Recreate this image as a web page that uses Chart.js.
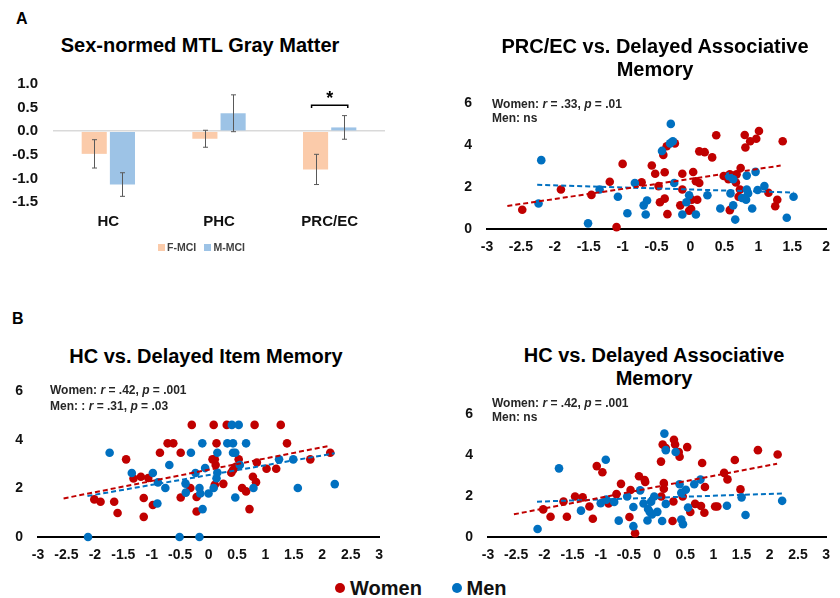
<!DOCTYPE html>
<html><head><meta charset="utf-8">
<script src="https://cdn.jsdelivr.net/npm/chart.js@4.4.1/dist/chart.umd.min.js"></script>
<style>
body{margin:0;background:#fff;}
#wrap{position:relative;width:840px;height:598px;overflow:hidden;font-family:"Liberation Sans",Arial,sans-serif;color:#000;background:#fff;}
canvas{position:absolute;}
.t{position:absolute;white-space:nowrap;font-weight:bold;}
.c{transform:translateX(-50%);text-align:center;}
.ann{font-size:12px;color:#262626;}
.dot{display:inline-block;border-radius:50%;position:absolute;}
</style></head><body>
<div id="wrap">
  <canvas id="c1" width="420" height="182" style="left:0;top:60px"></canvas>
  <canvas id="c2" width="403" height="179" style="left:437px;top:80px"></canvas>
  <canvas id="c3" width="393" height="199" style="left:0;top:368px"></canvas>
  <canvas id="c4" width="402" height="176" style="left:438px;top:391px"></canvas>

  <div class="t" style="left:16px;top:11px;font-size:16px;line-height:16px">A</div>
  <div class="t" style="left:12px;top:311px;font-size:16px;line-height:16px">B</div>

  <div class="t c" style="left:200px;top:35px;font-size:20px;line-height:20px">Sex-normed MTL Gray Matter</div>
  <div class="t c" style="left:655px;top:35px;font-size:20px;line-height:23px">PRC/EC vs. Delayed Associative<br>Memory</div>
  <div class="t c" style="left:206px;top:346px;font-size:20px;line-height:20px">HC vs. Delayed Item Memory</div>
  <div class="t c" style="left:654px;top:344px;font-size:20px;line-height:22.5px">HC vs. Delayed Associative<br>Memory</div>

  <div class="t ann" style="left:492px;top:96.5px;line-height:14.5px">Women: <i>r</i> = .33, <i>p</i> = .01<br>Men: ns</div>
  <div class="t ann" style="left:50px;top:383px;line-height:15.5px">Women: <i>r</i> = .42, <i>p</i> = .001<br>Men: : <i>r</i> = .31, <i>p</i> = .03</div>
  <div class="t ann" style="left:492px;top:396px;line-height:14.2px">Women: <i>r</i> = .42, <i>p</i> = .001<br>Men: ns</div>

  <div id="barLegend"></div>
  <div id="sexLegend"></div>
</div>
<script>
// ---------- Panel A: bar chart data ----------
const barCategories = ['HC', 'PHC', 'PRC/EC'];
const barSeriesNames = ['F-MCI', 'M-MCI'];
const fMCI = [-0.48, -0.16, -0.81];
const mMCI = [-1.13, 0.38, 0.08];
const fMCIErr = [0.30, 0.18, 0.32];
const mMCIErr = [0.25, 0.39, 0.25];
const barYRange = [-1.5, 1.0];
const barYStep = 0.5;
const sigCategory = 2;      // PRC/EC
const sigLevel = 0.55;      // bracket height (data units)

// ---------- Scatter data ----------
const sexNames = ['Women', 'Men'];
const memYRange = [0, 6];
const memYStep = 2;
const prcXRange = [-3, 2];
const hcXRange = [-3, 3];
const xStep = 0.5;

// PRC/EC vs Delayed Associative Memory
const prcWomenX = [-2.48,-1.91,-1.46,-1.19,-1.00,-1.09,-0.72,-0.57,-0.52,-0.47,-0.45,-0.38,-0.38,-0.40,-0.34,-0.35,-0.23,-0.15,-0.12,-0.12,-0.02,0.01,0.02,0.10,0.04,0.08,0.13,0.13,0.21,0.32,0.38,0.49,0.56,0.58,0.67,0.68,0.73,0.74,0.71,0.58,0.80,0.81,0.88,0.97,1.01,1.15,1.28,1.25,1.36];
const prcWomenY = [0.92,1.89,1.63,2.26,3.11,0.09,2.23,3.03,2.64,2.05,1.28,1.45,2.71,3.54,0.71,3.95,4.09,1.13,2.64,1.89,0.87,0.95,1.40,1.40,2.72,2.28,2.20,3.71,3.67,3.42,4.48,2.53,2.38,2.61,2.22,2.61,1.89,2.91,1.54,0.90,4.49,3.89,4.19,4.31,4.68,1.73,1.40,1.09,4.19];
const prcMenX = [-2.20,-2.24,-1.51,-1.34,-1.07,-0.93,-0.82,-0.69,-0.64,-0.66,-0.42,-0.29,-0.30,-0.26,-0.24,-0.12,-0.06,-0.02,0.08,0.25,0.44,0.57,0.63,0.59,0.63,0.66,0.76,0.82,0.83,0.83,0.85,0.91,0.99,0.96,1.09,1.42,1.52];
const prcMenY = [3.29,1.22,0.27,1.89,1.54,0.75,2.20,1.13,1.36,0.69,3.73,5.02,4.09,4.19,2.20,0.69,1.28,1.61,0.69,1.61,0.98,2.52,2.38,1.70,1.13,0.45,1.48,1.40,1.89,2.55,1.70,0.98,1.86,2.73,2.05,0.54,1.54];
const prcWomenFitX = [-2.70, 1.33], prcWomenFitY = [1.10, 3.03];
const prcMenFitX = [-2.26, 1.52], prcMenFitY = [2.11, 1.74];

// HC vs Delayed Item Memory
const hcItemWomenX = [-2.01,-1.90,-1.66,-1.60,-1.45,-1.32,-1.19,-1.14,-1.14,-1.06,-0.98,-0.855,-0.72,-0.62,-0.49,-0.49,-0.32,-0.295,-0.21,-0.21,0.07,0.11,0.09,0.14,0.125,0.11,0.26,0.32,0.40,0.43,0.48,0.53,0.59,0.66,0.72,0.78,0.835,0.81,0.85,1.02,1.19,1.27,1.38,1.79,2.14];
const hcItemWomenY = [1.55,1.45,1.45,0.99,3.20,2.41,2.48,1.61,0.83,2.43,1.32,3.47,3.86,3.86,3.47,1.63,2.02,4.62,1.65,1.05,3.20,3.20,4.62,3.86,2.97,2.15,2.19,4.62,2.65,2.76,2.89,3.20,2.02,1.88,1.15,2.48,2.26,4.62,3.07,2.81,2.81,4.62,3.86,3.20,3.47];
const hcItemMenX = [-2.12,-1.74,-1.35,-0.98,-0.89,-0.90,-0.76,-0.69,-0.51,-0.405,-0.40,-0.31,-0.23,-0.16,-0.16,-0.145,-0.105,-0.11,-0.06,0.00,0.09,0.155,0.155,0.14,0.33,0.43,0.43,0.41,0.53,0.47,0.47,0.55,0.66,0.79,1.24,1.49,1.57,2.22];
const hcItemMenY = [0,3.47,2.64,2.64,2.25,1.38,2.02,2.97,0,2.20,1.83,3.47,2.64,0,2.02,1.79,1.15,3.86,2.84,1.79,2.02,3.47,2.66,2.42,3.86,3.86,3.47,4.62,4.62,3.47,1.63,2.97,3.86,2.02,3.20,3.20,2.02,2.18];
const hcItemWomenFitX = [-2.55, 2.13], hcItemWomenFitY = [1.59, 3.76];
const hcItemMenFitX = [-2.13, 2.22], hcItemMenFitY = [1.69, 3.45];

// HC vs Delayed Associative Memory
const hcAssocWomenX = [-2.02,-1.89,-1.66,-1.60,-1.455,-1.32,-1.20,-1.14,-1.07,-0.97,-0.86,-0.72,-0.64,-0.49,-0.47,-0.32,-0.22,-0.21,-0.39,0.07,0.075,0.10,0.12,0.12,0.155,0.275,0.29,0.30,0.32,0.385,0.40,0.455,0.535,0.59,0.675,0.78,0.80,0.85,0.84,1.03,1.07,1.19,1.25,1.38,1.48,1.79,2.14];
const hcAssocWomenY = [1.35,0.99,1.74,0.99,1.98,1.94,1.49,0.89,3.47,3.17,1.64,2.10,2.60,0.98,2.30,2.97,2.79,2.69,0.18,3.69,1.98,4.53,2.36,2.64,4.35,0.78,1.74,4.76,4.53,4.16,3.93,1.98,4.40,1.22,1.62,1.52,3.62,2.45,1.19,1.49,1.49,3.14,2.82,3.77,2.33,4.25,4.04];
const hcAssocMenX = [-2.12,-1.74,-1.35,-1.00,-0.90,-0.91,-0.76,-0.68,-0.53,-0.42,-0.42,-0.30,-0.24,-0.17,-0.16,-0.13,-0.105,-0.09,-0.05,0.005,0.09,0.13,0.155,0.155,0.33,0.40,0.43,0.43,0.46,0.51,0.55,0.66,0.77,1.24,1.50,1.57,2.22];
const hcAssocMenY = [0.39,3.36,1.29,1.65,1.83,3.78,1.71,0.80,1.98,1.47,0.53,2.28,1.64,0.81,1.37,1.23,1.73,1.10,1.98,1.23,0.78,5.06,4.25,1.62,4.16,2.58,2.16,0.86,0.63,2.31,1.44,2.58,2.81,1.53,1.94,1.08,1.77];
const hcAssocWomenFitX = [-2.54, 2.13], hcAssocWomenFitY = [1.11, 3.59];
const hcAssocMenFitX = [-2.13, 2.22], hcAssocMenFitY = [1.73, 2.13];

// ---------- styling ----------
const FONT = '"Liberation Sans", Arial, sans-serif';
Chart.defaults.font.family = FONT;
Chart.defaults.color = '#111';
const RED = '#C00000', BLUE = '#0070C0';
const PEACH = '#FBCBAA', LBLUE = '#9DC3E6';

function pts(xs, ys) { return xs.map((x, i) => ({ x: x, y: ys[i] })); }

// ---------- Bar chart ----------
const barPlugin = {
  id: 'errAndSig',
  afterDatasetsDraw(chart) {
    const ctx = chart.ctx, ys = chart.scales.y;
    const errs = [fMCIErr, mMCIErr];
    ctx.save();
    ctx.strokeStyle = '#595959';
    ctx.lineWidth = 1;
    chart.data.datasets.forEach((ds, i) => {
      const meta = chart.getDatasetMeta(i);
      meta.data.forEach((bar, j) => {
        const v = ds.data[j], e = errs[i][j];
        const y1 = ys.getPixelForValue(v + e), y2 = ys.getPixelForValue(v - e);
        const x = Math.round(bar.x) + 0.5;
        ctx.beginPath();
        ctx.moveTo(x, y1); ctx.lineTo(x, y2);
        ctx.moveTo(x - 2.5, y1); ctx.lineTo(x + 2.5, y1);
        ctx.moveTo(x - 2.5, y2); ctx.lineTo(x + 2.5, y2);
        ctx.stroke();
      });
    });
    // significance bracket
    const b0 = chart.getDatasetMeta(0).data[sigCategory];
    const b1 = chart.getDatasetMeta(1).data[sigCategory];
    const x0 = b0.x - 4, x1 = b1.x + 4;
    const yb = ys.getPixelForValue(sigLevel);
    const yt = ys.getPixelForValue(sigLevel - 0.06);
    ctx.strokeStyle = '#000';
    ctx.lineWidth = 1.5;
    ctx.beginPath();
    ctx.moveTo(x0, yt); ctx.lineTo(x0, yb); ctx.lineTo(x1, yb); ctx.lineTo(x1, yt);
    ctx.stroke();
    ctx.fillStyle = '#000';
    ctx.font = 'bold 18px ' + FONT;
    ctx.textAlign = 'center';
    ctx.textBaseline = 'alphabetic';
    ctx.fillText('*', (x0 + x1) / 2, yb - 1);
    ctx.restore();
  }
};

new Chart(document.getElementById('c1'), {
  type: 'bar',
  data: {
    labels: barCategories,
    datasets: [
      { label: barSeriesNames[0], data: fMCI, backgroundColor: PEACH, categoryPercentage: 0.51, barPercentage: 0.89 },
      { label: barSeriesNames[1], data: mMCI, backgroundColor: LBLUE, categoryPercentage: 0.51, barPercentage: 0.89 }
    ]
  },
  options: {
    responsive: false, animation: false, devicePixelRatio: 1,
    layout: { padding: { top: 13, right: 35, left: 0, bottom: 0 } },
    plugins: { legend: { display: false }, tooltip: { enabled: false } },
    scales: {
      x: {
        grid: { display: false, drawTicks: false },
        border: { display: false },
        ticks: { font: { size: 15, weight: 'bold' }, padding: 11, color: '#111' },
        afterFit(s) { s.height = 40; }
      },
      y: {
        min: barYRange[0], max: barYRange[1],
        ticks: { stepSize: barYStep, font: { size: 15, weight: 'bold' }, padding: 15, color: '#111',
                 callback: v => v.toFixed(1) },
        grid: { drawTicks: false, lineWidth: 1.5,
                color: c => (c.tick && Math.abs(c.tick.value) < 1e-9) ? '#D9D9D9' : 'rgba(0,0,0,0)' },
        border: { display: false },
        afterFit(s) { s.width = 53; }
      }
    }
  },
  plugins: [barPlugin]
});

// ---------- Scatter charts ----------
function makeScatter(id, xRange, yw, padRight, padTop, women, men, wFit, mFit) {
  new Chart(document.getElementById(id), {
    type: 'scatter',
    data: {
      datasets: [
        { label: 'Women fit', data: wFit, showLine: true, borderColor: RED, borderWidth: 2, borderDash: [5, 3], pointRadius: 0, clip: false },
        { label: 'Men fit', data: mFit, showLine: true, borderColor: BLUE, borderWidth: 2, borderDash: [5, 3], pointRadius: 0, clip: false },
        { label: sexNames[1], data: men, backgroundColor: BLUE, borderWidth: 0, pointRadius: 4.3, clip: false },
        { label: sexNames[0], data: women, backgroundColor: RED, borderWidth: 0, pointRadius: 4.3, clip: false }
      ]
    },
    options: {
      responsive: false, animation: false, devicePixelRatio: 1,
      layout: { padding: { top: padTop, right: padRight, left: 0, bottom: 0 } },
      plugins: { legend: { display: false }, tooltip: { enabled: false } },
      scales: {
        x: {
          type: 'linear', min: xRange[0], max: xRange[1],
          ticks: { stepSize: xStep, autoSkip: false, maxRotation: 0, font: { size: 14, weight: 'bold' }, padding: 10, color: '#111',
                   callback: v => String(v) },
          grid: { display: false, drawTicks: false },
          border: { display: true, color: '#000', width: 2 },
          afterFit(s) { s.height = 30; }
        },
        y: {
          min: memYRange[0], max: memYRange[1],
          ticks: { stepSize: memYStep, font: { size: 14, weight: 'bold' }, padding: 15, color: '#111' },
          grid: { display: false, drawTicks: false },
          border: { display: false },
          afterFit(s) { s.width = yw; }
        }
      }
    }
  });
}

makeScatter('c2', prcXRange, 50, 7, 14,
  pts(prcWomenX, prcWomenY), pts(prcMenX, prcMenY),
  pts(prcWomenFitX, prcWomenFitY), pts(prcMenFitX, prcMenFitY));
makeScatter('c3', hcXRange, 38, 8, 13,
  pts(hcItemWomenX, hcItemWomenY), pts(hcItemMenX, hcItemMenY),
  pts(hcItemWomenFitX, hcItemWomenFitY), pts(hcItemMenFitX, hcItemMenFitY));
makeScatter('c4', hcXRange, 50, 5, 13,
  pts(hcAssocWomenX, hcAssocWomenY), pts(hcAssocMenX, hcAssocMenY),
  pts(hcAssocWomenFitX, hcAssocWomenFitY), pts(hcAssocMenFitX, hcAssocMenFitY));

// ---------- HTML legends ----------
const bl = document.getElementById('barLegend');
[[barSeriesNames[0], PEACH, 157.5, 167], [barSeriesNames[1], LBLUE, 204, 213.5]].forEach(([name, col, sx, tx]) => {
  const sw = document.createElement('div');
  sw.style.cssText = `position:absolute;left:${sx}px;top:243.5px;width:7px;height:7px;background:${col}`;
  bl.appendChild(sw);
  const t = document.createElement('div');
  t.className = 't';
  t.style.cssText = `left:${tx}px;top:241.5px;font-size:10.5px;line-height:10.5px;color:#404040`;
  t.textContent = name;
  bl.appendChild(t);
});
const sl = document.getElementById('sexLegend');
[[sexNames[0], RED, 340, 350], [sexNames[1], BLUE, 456.5, 466.5]].forEach(([name, col, cx, tx]) => {
  const d = document.createElement('span');
  d.className = 'dot';
  d.style.cssText = `left:${cx - 5}px;top:583px;width:10px;height:10px;background:${col}`;
  sl.appendChild(d);
  const t = document.createElement('div');
  t.className = 't';
  t.style.cssText = `left:${tx}px;top:578px;font-size:20px;line-height:20px;color:#111`;
  t.textContent = name;
  sl.appendChild(t);
});
</script>
</body></html>
